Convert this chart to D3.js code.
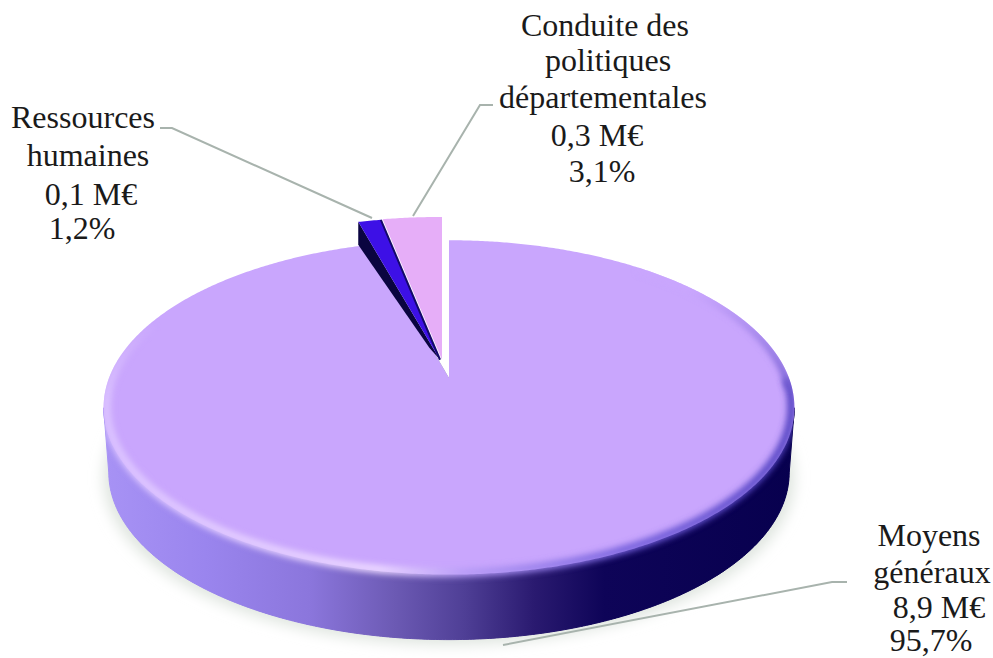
<!DOCTYPE html>
<html><head><meta charset="utf-8">
<script src="https://cdn.jsdelivr.net/npm/d3@7"></script>
<style>html,body{margin:0;padding:0;background:#fff}svg{display:block}text{font-family:"Liberation Serif",serif;font-size:32px;fill:#1a1a1a}</style>
</head><body>
<script>
const categories = ["Moyens généraux","Ressources humaines","Conduite des politiques départementales"];
const percents = [95.7,1.2,3.1];
const amounts = ["8,9 M€","0,1 M€","0,3 M€"];
const percentLabels = ["95,7%","1,2%","3,1%"];
const faceColors = ["#c9a6fd","#3d10e6","#e6aef8"];

const W=993,H=658;
const svg=d3.select("body").append("svg").attr("width",W).attr("height",H);
const defs=svg.append("defs");
const cx=449,cy=378,R=340,S=162,P=0.176,depth=65;
const proj=(u,v,dy=0,ox=0,sx=1)=>{const w=1+P*v;return [cx+ox+sx*R*u/w,cy-S*v/w+dy];};
const line=d3.line();
const pie=d3.pie().sort(null).value(d=>d);
const arcs=pie(percents);
const geom=[{p:0,r:1,ox:0,sx:1},{p:0.115,r:1.085,ox:-9,sx:1},{p:0.115,r:1.09,ox:-7,sx:1}];
function pt(a,r,g,dy=0,sx=1){return proj(Math.sin(a)*r,Math.cos(a)*r+g.p,dy,g.ox,sx);}
function arcPts(a0,a1,r,g,dy=0,sx=1){const n=Math.max(6,Math.ceil((a1-a0)*120));return d3.range(n+1).map(i=>pt(a0+(a1-a0)*i/n,r,g,dy,sx));}
function wedge(a,g,dy=0){return [pt(0,0,g,dy),...arcPts(a.startAngle,a.endAngle,g.r,g,dy)];}
const full=arcPts(0,2*Math.PI,1,geom[0]);
const lower=arcPts(0,2*Math.PI,1,geom[0],depth,0.985);
const idxR=d3.greatestIndex(full,p=>p[0]), idxL=d3.leastIndex(full,p=>p[0]);
const wallPts=[...full.slice(idxR,idxL+1),...lower.slice(idxR,idxL+1).reverse()];

const sg=defs.append("linearGradient").attr("id","side").attr("gradientUnits","userSpaceOnUse").attr("x1",100).attr("x2",800).attr("y1",0).attr("y2",0);
[[0,"#a893f5"],[0.15,"#9a85ee"],[0.3,"#8b76dc"],[0.42,"#6c5ab4"],[0.52,"#4f3f96"],[0.62,"#2a1a70"],[0.72,"#0e0458"],[1,"#07004e"]].forEach(s=>sg.append("stop").attr("offset",s[0]).attr("stop-color",s[1]));
const rg=defs.append("linearGradient").attr("id","rim").attr("gradientUnits","userSpaceOnUse").attr("x1",100).attr("x2",800).attr("y1",0).attr("y2",0);
[[0,"#dcc4ff"],[0.4,"#ecd9ff"],[0.52,"#b79cf6"],[0.75,"#7560dc"],[1,"#5040c0"]].forEach(s=>rg.append("stop").attr("offset",s[0]).attr("stop-color",s[1]));
const rg2=defs.append("linearGradient").attr("id","rimTop").attr("gradientUnits","userSpaceOnUse").attr("x1",0).attr("x2",0).attr("y1",290).attr("y2",420);
[[0,"#c9a6fd"],[1,"#5040c0"]].forEach(s=>rg2.append("stop").attr("offset",s[0]).attr("stop-color",s[1]));
const fade=defs.append("linearGradient").attr("id","fade").attr("gradientUnits","userSpaceOnUse").attr("x1",0).attr("x2",0).attr("y1",320).attr("y2",400);
[[0,"#000"],[1,"#fff"]].forEach(s=>fade.append("stop").attr("offset",s[0]).attr("stop-color",s[1]));
const m=defs.append("mask").attr("id","rimMask").attr("maskUnits","userSpaceOnUse").attr("x",0).attr("y",0).attr("width",W).attr("height",H);
m.append("rect").attr("x",0).attr("y",0).attr("width",cx).attr("height",H).attr("fill","url(#fade)");
m.append("rect").attr("x",cx).attr("y",0).attr("width",W-cx).attr("height",H).attr("fill","#fff");
const f=(id,sd)=>defs.append("filter").attr("id",id).attr("x","-10%").attr("y","-10%").attr("width","120%").attr("height","120%").append("feGaussianBlur").attr("stdDeviation",sd);
f("blur",3);f("shadow",7);
const clip=defs.append("clipPath").attr("id","bodyClip");
[full,lower,wallPts].forEach(p=>clip.append("path").attr("d",line(p)+"Z"));

svg.append("path").attr("d",line(arcPts(0,2*Math.PI,1,geom[0],depth+5))+"Z").attr("fill","#dfe5df").attr("filter","url(#shadow)");

svg.append("path").attr("d",line(lower)+"Z").attr("fill","url(#side)");
svg.append("path").attr("d",line(wallPts)+"Z").attr("fill","url(#side)").attr("stroke","url(#side)");

svg.append("path").datum(arcs[0]).attr("d",d=>line(wedge(d,geom[0]))+"Z").attr("fill",faceColors[0]);
const rimClip=svg.append("g").attr("clip-path","url(#bodyClip)");
const rimG=rimClip.append("g").attr("mask","url(#rimMask)");
rimG.append("path").attr("d",line(arcPts(Math.PI*0.5,Math.PI*1.62,0.992,geom[0]))).attr("fill","none").attr("stroke","url(#rim)").attr("stroke-width",8).attr("filter","url(#blur)");
rimG.append("path").attr("d",line(arcPts(Math.PI*0.22,Math.PI*0.52,0.992,geom[0]))).attr("fill","none").attr("stroke","url(#rimTop)").attr("stroke-width",7).attr("filter","url(#blur)");
const a0=arcs[1];
svg.append("path").attr("d",line([pt(0,0,geom[0]),...arcPts(a0.startAngle,2*Math.PI,1.03,geom[0])])+"Z").attr("fill","#fff");

const g1=geom[1],g2=geom[2];
const blueWall=[pt(0,0,g1),pt(arcs[1].startAngle,g1.r,g1),pt(arcs[1].startAngle,g1.r,g1,23),pt(arcs[1].startAngle,0.12,g1,6)];
svg.append("path").attr("d",line(blueWall)+"Z").attr("fill","#0a0440");
svg.append("path").attr("d",line(wedge(arcs[1],g1))+"Z").attr("fill",faceColors[1]);
svg.append("path").attr("d",line([pt(0,0,g1),pt(arcs[1].endAngle,g1.r,g1)])).attr("stroke","#15086a").attr("stroke-width",2).attr("fill","none");
svg.append("path").attr("d",line(wedge(arcs[2],g2))+"Z").attr("fill",faceColors[2]);

const leaders=[
 [[847,582],[832,582],[503,645]],
 [[160,128],[172,128],[372,218]],
 [[493,105],[480,105],[413,216]]
];
svg.append("g").selectAll("path").data(leaders).join("path").attr("d",d=>line(d)).attr("fill","none").attr("stroke","#a8b3ad").attr("stroke-width",2);

const labelLines=[
 [["Moyens",929,546],["généraux",932,583],[amounts[0],939,618],[percentLabels[0],931,651]],
 [["Ressources",83,128],["humaines",88,166],[amounts[1],91,205],[percentLabels[1],82,239]],
 [["Conduite des",605,36],["politiques",608,71],["départementales",603,108],[amounts[2],597,146],[percentLabels[2],602,182]]
];
svg.append("g").selectAll("text").data(labelLines.flat()).join("text").attr("x",d=>d[1]).attr("y",d=>d[2]).attr("text-anchor","middle").text(d=>d[0]);
</script>
</body></html>
